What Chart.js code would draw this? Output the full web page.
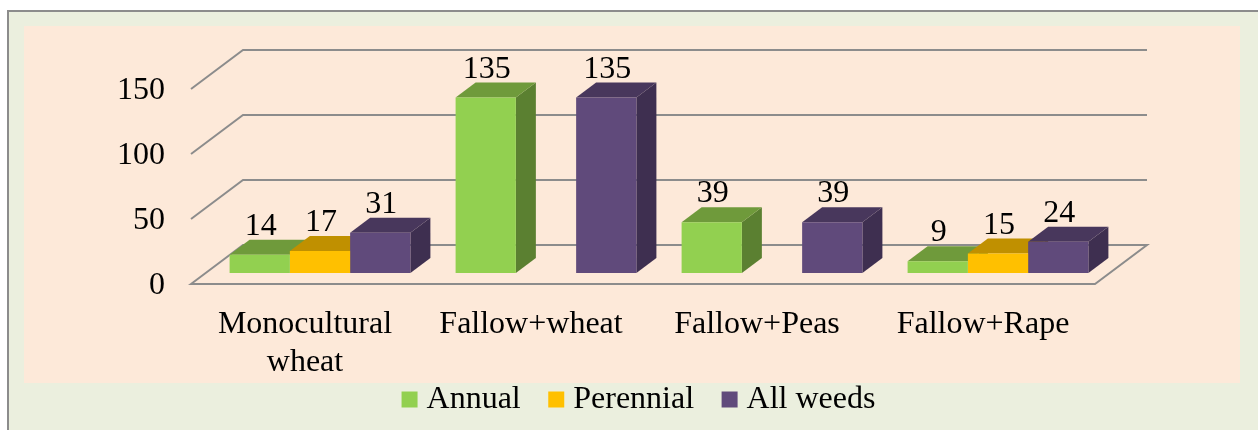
<!DOCTYPE html>
<html>
<head>
<meta charset="utf-8">
<title>Weeds by crop rotation</title>
<script src="https://cdn.jsdelivr.net/npm/chart.js@4"></script>
<style>
  html, body { margin: 0; padding: 0; background: #fff; overflow: hidden; }
  #frame { position: absolute; left: 7px; top: 10px; width: 1258px; height: 430px; box-sizing: border-box;
           border: 2px solid #8c8c8c; background: #ebefde; }
  #panel { position: absolute; left: 24px; top: 26px; width: 1216px; height: 357px; background: #fde9d9; }
  canvas { position: absolute; left: 0; top: 0; }
</style>
</head>
<body>
<div id="frame"></div>
<div id="panel"></div>
<canvas id="chart" width="1258" height="430"></canvas>
<script>
'use strict';

const categories = [['Monocultural', 'wheat'], 'Fallow+wheat', 'Fallow+Peas', 'Fallow+Rape'];
const annual = [14, 135, 39, 9];
const perennial = [17, null, null, 15];
const allWeeds = [31, 135, 39, 24];

const frontColors = ['#92d050', '#ffc000', '#604a7b'];
const topColors = ['#6f9a3b', '#c09000', '#48375c'];
const sideColors = ['#5b8031', '#a67c00', '#3e2f50'];

const fontFamily = '"Liberation Serif", "Times New Roman", serif';
const fontSize = 32;
const gridColor = '#8c8c8c';

// Tiefe der Balken und des Bodens
const barDepth = { x: 20, y: -15 };
const floorFront = { x: -16, y: 11 };
const floorBack = { x: 36, y: -28 };

function fillPoly(ctx, color, points) {
  ctx.fillStyle = color;
  ctx.beginPath();
  points.forEach((p, i) => (i ? ctx.lineTo(p[0], p[1]) : ctx.moveTo(p[0], p[1])));
  ctx.closePath();
  ctx.fill();
}

// Boden, Wandlinien und Balkenseiten (vor den Vorderseiten zeichnen)
const depthPlugin = {
  id: 'depth',
  beforeDatasetsDraw(chart) {
    const { ctx, chartArea, scales } = chart;
    const left = chartArea.left;
    const right = chartArea.right;

    ctx.save();
    ctx.strokeStyle = gridColor;
    ctx.lineWidth = 2;
    scales.y.ticks.forEach(tick => {
      const y = scales.y.getPixelForValue(tick.value);
      ctx.beginPath();
      ctx.moveTo(left + floorFront.x, y + floorFront.y);
      ctx.lineTo(left + floorBack.x, y + floorBack.y);
      ctx.lineTo(right + floorBack.x, y + floorBack.y);
      if (tick.value === 0) {
        ctx.lineTo(right + floorFront.x, y + floorFront.y);
        ctx.closePath();
      }
      ctx.stroke();
    });

    for (let c = 0; c < categories.length; c++) {
      chart.data.datasets.forEach((ds, d) => {
        if (ds.data[c] === null) return;
        const bar = chart.getDatasetMeta(d).data[c];
        const x0 = bar.x - bar.width / 2;
        const x1 = bar.x + bar.width / 2;
        fillPoly(ctx, sideColors[d], [
          [x1, bar.y], [x1 + barDepth.x, bar.y + barDepth.y],
          [x1 + barDepth.x, bar.base + barDepth.y], [x1, bar.base]
        ]);
        fillPoly(ctx, topColors[d], [
          [x0, bar.y], [x0 + barDepth.x, bar.y + barDepth.y],
          [x1 + barDepth.x, bar.y + barDepth.y], [x1, bar.y]
        ]);
      });
    }
    ctx.restore();
  },
  afterDatasetsDraw(chart) {
    const { ctx } = chart;
    ctx.save();
    ctx.fillStyle = '#000';
    ctx.font = `${fontSize}px ${fontFamily}`;
    ctx.textAlign = 'center';
    ctx.textBaseline = 'alphabetic';
    chart.data.datasets.forEach((ds, d) => {
      chart.getDatasetMeta(d).data.forEach((bar, c) => {
        if (ds.data[c] === null) return;
        ctx.fillText(String(ds.data[c]), bar.x + 1, bar.y + barDepth.y - 5);
      });
    });
    ctx.restore();
  },
  // Legende mittig unter das Panel setzen
  afterLayout(chart) {
    const legend = chart.legend;
    legend.left = 26;
    legend.right = 1258;
    legend.top = 349;
    legend.bottom = 463;
    legend.adjustHitBoxes();
  }
};

new Chart(document.getElementById('chart'), {
  type: 'bar',
  data: {
    labels: categories,
    datasets: [
      { label: 'Annual', data: annual, backgroundColor: frontColors[0] },
      { label: 'Perennial', data: perennial, backgroundColor: frontColors[1] },
      { label: 'All weeds', data: allWeeds, backgroundColor: frontColors[2] }
    ]
  },
  options: {
    responsive: false,
    animation: false,
    barPercentage: 1,
    categoryPercentage: 0.8,
    layout: { padding: { top: 78, right: 147, bottom: 0, left: 0 } },
    font: { family: fontFamily },
    scales: {
      x: {
        grid: { display: false },
        border: { display: false },
        afterFit(scale) { scale.height = 107; },
        ticks: {
          color: '#000',
          padding: 24,
          labelOffset: -15,
          maxRotation: 0,
          autoSkip: false,
          font: { family: fontFamily, size: fontSize }
        }
      },
      y: {
        min: 0,
        max: 150,
        grid: { display: false },
        border: { display: false },
        afterFit(scale) { scale.width = 207; },
        ticks: {
          color: '#000',
          stepSize: 50,
          padding: 34,
          labelOffset: 13,
          font: { family: fontFamily, size: fontSize }
        }
      }
    },
    plugins: {
      tooltip: { enabled: false },
      legend: {
        position: 'bottom',
        maxHeight: 50,
        labels: {
          color: '#000',
          padding: 34.5,
          boxWidth: 2,
          boxHeight: 2,
          font: { family: fontFamily, size: fontSize },
          // Quadrat kommt vom dicken Rand, damit der Abstand zum Text stimmt
          generateLabels(chart) {
            return chart.data.datasets.map((ds, i) => ({
              text: ds.label,
              fillStyle: frontColors[i],
              strokeStyle: frontColors[i],
              lineWidth: 14,
              fontColor: '#000',
              datasetIndex: i
            }));
          }
        }
      }
    }
  },
  plugins: [depthPlugin]
});
</script>
</body>
</html>
